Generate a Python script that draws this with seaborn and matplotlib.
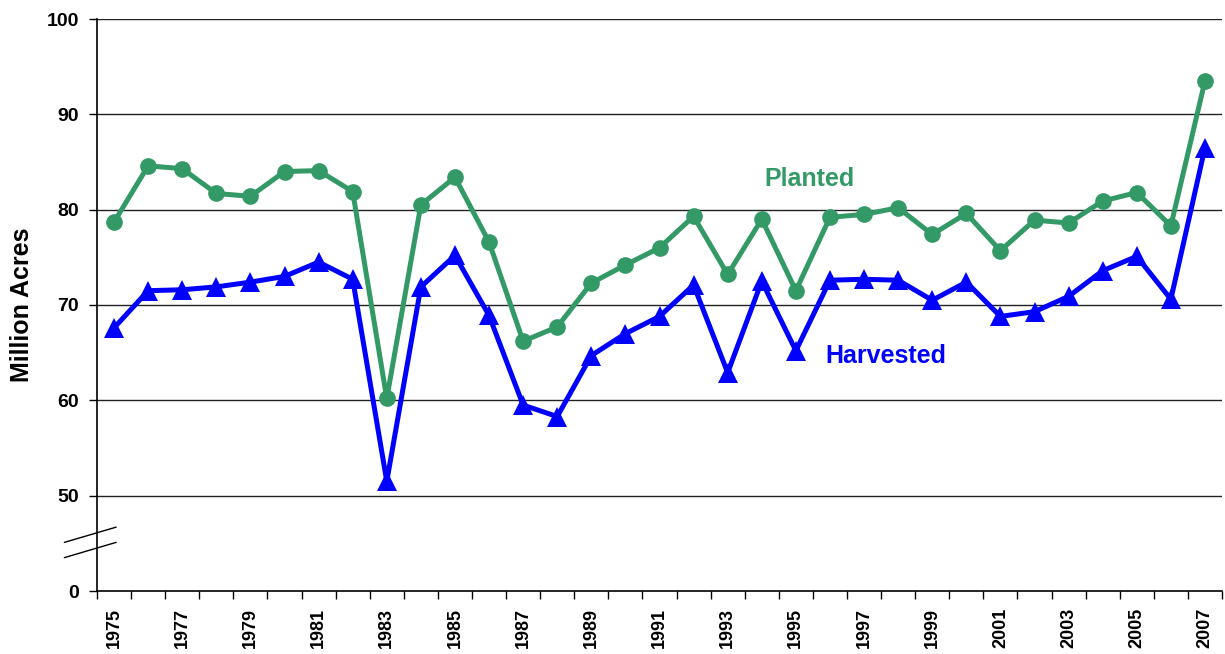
"""
Corn acreage planted vs harvested, 1975-2007, with a broken y axis.
"""

import matplotlib
matplotlib.use("Agg")
import matplotlib.pyplot as plt
import matplotlib.transforms as mtransforms
import pandas as pd
import seaborn as sns

YEARS = list(range(1975, 2008))
PLANTED = [
    78.7, 84.6, 84.3, 81.7, 81.4, 84.0, 84.1, 81.9, 60.2, 80.5, 83.4,
    76.6, 66.2, 67.7, 72.3, 74.2, 76.0, 79.3, 73.2, 79.0, 71.5, 79.2,
    79.5, 80.2, 77.4, 79.6, 75.7, 78.9, 78.6, 80.9, 81.8, 78.3, 93.5,
]
HARVESTED = [
    67.6, 71.5, 71.6, 71.9, 72.4, 73.0, 74.5, 72.7, 51.5, 71.9, 75.2,
    68.9, 59.5, 58.3, 64.7, 67.0, 68.8, 72.1, 62.9, 72.5, 65.2, 72.6,
    72.7, 72.6, 70.5, 72.4, 68.8, 69.3, 70.9, 73.6, 75.1, 70.6, 86.5,
]
Y_TICKS = [40, 50, 60, 70, 80, 90, 100]
Y_TICK_LABELS = ["0", "50", "60", "70", "80", "90", "100"]

GREEN = "#339966"
BLUE = "#0000FF"


def main() -> None:
    sns.set_style("white")
    plt.rcParams["font.family"] = ["Liberation Sans", "DejaVu Sans"]
    plt.rcParams["text.color"] = "black"
    plt.rcParams["axes.labelcolor"] = "black"
    plt.rcParams["xtick.color"] = "black"
    plt.rcParams["ytick.color"] = "black"

    df = pd.DataFrame({
        "idx": range(len(YEARS)),
        "Planted": PLANTED,
        "Harvested": HARVESTED,
    })

    fig = plt.figure(figsize=(12.25, 6.54), dpi=100)
    ax = fig.add_axes([97 / 1225, 63 / 654, 1125 / 1225, 572 / 654])

    sns.lineplot(data=df, x="idx", y="Planted", ax=ax, color=GREEN,
                 linewidth=3.6, marker="o", markersize=12,
                 markeredgewidth=0, zorder=3)
    sns.lineplot(data=df, x="idx", y="Harvested", ax=ax, color=BLUE,
                 linewidth=3.6, marker="^", markersize=14,
                 markeredgewidth=0, zorder=4)

    ax.set_xlim(-0.5, len(YEARS) - 0.5)
    ax.set_ylim(40, 100)

    # y axis
    ax.set_yticks(Y_TICKS)
    ax.set_yticklabels(Y_TICK_LABELS, fontsize=14, fontweight="bold")
    for y in Y_TICKS[1:]:
        ax.axhline(y, color="#222222", linewidth=1.0, zorder=1)
    ax.tick_params(axis="y", direction="out", length=6, width=1,
                   pad=7, left=True)
    ax.set_ylabel("Million Acres", fontsize=18, fontweight="bold")
    ax.yaxis.set_label_coords(-0.056, 0.5)

    # x axis: tick marks between categories, labels on odd years
    label_idx = list(range(0, len(YEARS), 2))
    ax.set_xticks(label_idx)
    ax.set_xticklabels([str(YEARS[i]) for i in label_idx], rotation=90,
                       fontsize=13, fontweight="bold")
    ax.tick_params(axis="x", which="major", length=0, pad=12)
    ax.set_xticks([i - 0.5 for i in range(len(YEARS) + 1)], minor=True)
    ax.tick_params(axis="x", which="minor", direction="out", length=6,
                   width=1, bottom=True)
    ax.set_xlabel("")

    for side in ["top", "right"]:
        ax.spines[side].set_visible(False)
    for side in ["left", "bottom"]:
        ax.spines[side].set_color("black")
        ax.spines[side].set_linewidth(1.2)

    # axis break marks
    trans = mtransforms.blended_transform_factory(ax.transAxes, ax.transData)
    ax.plot([-0.029, 0.017], [45.1, 46.7], color="black", linewidth=1.0,
            transform=trans, clip_on=False)
    ax.plot([-0.029, 0.017], [43.5, 45.1], color="black", linewidth=1.0,
            transform=trans, clip_on=False)

    ax.text(20.4, 83.2, "Planted", color=GREEN, fontsize=18,
            fontweight="bold", ha="center", va="center")
    ax.text(22.63, 64.6, "Harvested", color=BLUE, fontsize=18,
            fontweight="bold", ha="center", va="center")

    fig.savefig("out.png", dpi=100)


if __name__ == "__main__":
    main()
